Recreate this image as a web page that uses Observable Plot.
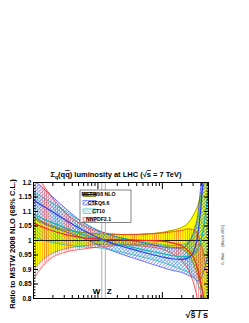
<!DOCTYPE html>
<html><head><meta charset="utf-8">
<script src="https://cdn.jsdelivr.net/npm/d3@7"></script>
<script src="https://cdn.jsdelivr.net/npm/@observablehq/plot@0.6"></script>
<style>body{margin:0;background:#fff}svg{display:block}</style>
</head><body><div id="chart"></div>
<script>
// x = sqrt(s_hat)/s
const xs      = [0.001, 0.00126, 0.00178, 0.00316, 0.00562, 0.01, 0.0178, 0.0316, 0.0562, 0.1, 0.141, 0.2, 0.251, 0.316, 0.355, 0.398, 0.447, 0.501, 0.525];
// MSTW 2008 NLO band (central = 1)
const mstwLo  = [0.899, 0.925, 0.951, 0.972, 0.981, 0.986, 0.987, 0.987, 0.985, 0.981, 0.977, 0.970, 0.956, 0.910, 0.880, 0.840, 0.800, 0.740, 0.700];
const mstwHi  = [1.083, 1.070, 1.054, 1.037, 1.028, 1.023, 1.021, 1.021, 1.023, 1.028, 1.035, 1.045, 1.060, 1.095, 1.120, 1.160, 1.200, 1.260, 1.300];
// CTEQ6.6
const cteqC   = [1.140, 1.125, 1.105, 1.070, 1.038, 1.010, 0.988, 0.972, 0.957, 0.943, 0.937, 0.935, 0.940, 0.970, 1.020, 1.120, 1.260, 1.400, 1.450];
const cteqHi  = [1.210, 1.190, 1.160, 1.110, 1.065, 1.035, 1.015, 1.002, 0.990, 0.978, 0.974, 0.975, 0.990, 1.040, 1.090, 1.200, 1.380, 1.600, 1.700];
const cteqLo  = [1.080, 1.065, 1.050, 1.030, 1.010, 0.985, 0.962, 0.943, 0.925, 0.907, 0.897, 0.890, 0.880, 0.870, 0.860, 0.870, 0.900, 0.950, 0.980];
// CT10
const ct10C   = [1.090, 1.080, 1.065, 1.043, 1.022, 1.005, 0.990, 0.978, 0.966, 0.955, 0.948, 0.944, 0.945, 0.955, 0.970, 1.000, 1.060, 1.150, 1.200];
const ct10Hi  = [1.170, 1.155, 1.135, 1.100, 1.065, 1.035, 1.015, 1.003, 0.993, 0.985, 0.983, 0.985, 0.995, 1.030, 1.070, 1.150, 1.300, 1.500, 1.600];
const ct10Lo  = [1.010, 1.005, 0.995, 0.985, 0.978, 0.975, 0.965, 0.953, 0.940, 0.925, 0.913, 0.900, 0.890, 0.870, 0.850, 0.820, 0.780, 0.740, 0.720];
// NNPDF2.1
const nnC     = [1.060, 1.050, 1.037, 1.020, 1.010, 1.005, 1.003, 1.002, 1.000, 0.998, 0.992, 0.982, 0.965, 0.935, 0.900, 0.850, 0.790, 0.720, 0.700];
const nnHi    = [1.250, 1.210, 1.160, 1.095, 1.055, 1.032, 1.022, 1.020, 1.022, 1.026, 1.030, 1.035, 1.040, 1.035, 1.020, 0.990, 0.940, 0.880, 0.860];
const nnLo    = [0.865, 0.900, 0.935, 0.960, 0.970, 0.977, 0.982, 0.984, 0.979, 0.970, 0.955, 0.930, 0.900, 0.840, 0.790, 0.720, 0.640, 0.560, 0.540];

const bosons  = [{name:"W", x:80.4/7000}, {name:"Z", x:91.19/7000}];
const xMajor  = [0.001, 0.01, 0.1];
const xLabels = ["10\u207B\u00B3", "10\u207B\u00B2", "10\u207B\u00B9"];
const yMajor  = [0.8, 0.85, 0.9, 0.95, 1, 1.05, 1.1, 1.15, 1.2];
const legendNames = ["MSTW08 NLO", "CTEQ6.6", "CT10", "NNPDF2.1"];

const rows = xs.map((x, i) => ({x, mLo: mstwLo[i], mHi: mstwHi[i], mC: 1,
  cC: cteqC[i], cHi: cteqHi[i], cLo: cteqLo[i],
  tC: ct10C[i], tHi: ct10Hi[i], tLo: ct10Lo[i],
  nC: nnC[i], nHi: nnHi[i], nLo: nnLo[i]}));

const xMinor = [];
for (let e = -3; e <= -1; e++) for (let k = 2; k <= 9; k++) { const v = k * Math.pow(10, e); if (v <= 0.52) xMinor.push(v); }
const yMinor = d3.range(80, 121).map(v => v / 100);

const curve = "monotone-x";
const BLUE = "#2f3df0", CYAN = "#16b5b5", RED = "#f0282d", OLIVE = "#6b6b00";
const band = (lo, hi, fill) => Plot.areaY(rows, {x: "x", y1: lo, y2: hi, fill, curve, clip: true});
const ln = (y, stroke, sw) => Plot.line(rows, {x: "x", y, stroke, strokeWidth: sw, curve, clip: true});
const ax = (fn, ticks, opts) => fn(ticks, {label: null, tickFormat: () => "", ...opts});

const chart = Plot.plot({
  width: 249, height: 323,
  marginTop: 182, marginBottom: 25, marginLeft: 33, marginRight: 41,
  style: {fontFamily: "Liberation Sans, Arial, sans-serif", fontSize: "6.5px", fontWeight: "bold", background: "white", color: "black"},
  x: {type: "log", domain: [0.001, 0.52], axis: null},
  y: {domain: [0.8, 1.2], axis: null},
  marks: [
    band("mLo", "mHi", "#ffff00"),
    band("cLo", "cHi", "url(#hBlue)"),
    band("tLo", "tHi", "url(#hCyan)"),
    band("nLo", "nHi", "url(#hRed)"),
    ln("mLo", OLIVE, 0.6), ln("mHi", OLIVE, 0.6),
    ln("cLo", BLUE, 0.7), ln("cHi", BLUE, 0.7),
    ln("tLo", CYAN, 0.7), ln("tHi", CYAN, 0.7),
    ln("nLo", RED, 0.7), ln("nHi", RED, 0.7),
    Plot.ruleX(bosons, {x: "x", stroke: "#b0b0b0", strokeWidth: 1}),
    ln("mC", "#222", 1.2),
    ln("tC", CYAN, 1.2),
    ln("cC", BLUE, 1.2),
    ln("nC", RED, 1.2),
    Plot.text(bosons.filter(d => d.name === "W"), {x: "x", frameAnchor: "bottom", dy: -5, dx: -1.5, text: "name", fontSize: 8, fontWeight: "bold", textAnchor: "end"}),
    Plot.text(bosons.filter(d => d.name === "Z"), {x: "x", frameAnchor: "bottom", dy: -5, dx: 1.5, text: "name", fontSize: 8, fontWeight: "bold", textAnchor: "start"}),
    // axes: inward ticks
    ax(Plot.axisX, xMajor, {anchor: "bottom", tickSize: -6}),
    ax(Plot.axisX, xMinor, {anchor: "bottom", tickSize: -3}),
    ax(Plot.axisX, xMajor, {anchor: "top", tickSize: -6}),
    ax(Plot.axisX, xMinor, {anchor: "top", tickSize: -3}),
    Plot.axisX(xMajor, {anchor: "bottom", label: null, tickSize: 0, tickPadding: 3, tickFormat: (d, i) => xLabels[i], fontSize: 6}),
    ax(Plot.axisY, yMajor, {anchor: "left", tickSize: -5}),
    ax(Plot.axisY, yMinor, {anchor: "left", tickSize: -2.5}),
    ax(Plot.axisY, yMajor, {anchor: "right", tickSize: -5}),
    ax(Plot.axisY, yMinor, {anchor: "right", tickSize: -2.5}),
    Plot.axisY(yMajor, {anchor: "left", label: null, tickSize: 0, tickPadding: 2, tickFormat: d => String(d), fontSize: 6.5}),
    Plot.frame({stroke: "black", strokeWidth: 1})
  ]
});

const svg = d3.select(chart);
const defs = svg.insert("defs", ":first-child");
function hatch(id, color, angle, gap, w) {
  const p = defs.append("pattern").attr("id", id).attr("patternUnits", "userSpaceOnUse")
    .attr("width", gap).attr("height", gap).attr("patternTransform", `rotate(${angle})`);
  p.append("line").attr("x1", 0).attr("y1", 0).attr("x2", 0).attr("y2", gap)
    .attr("stroke", color).attr("stroke-width", w);
}
hatch("hBlue", BLUE, 45, 2.5, 0.9);
hatch("hCyan", CYAN, -45, 2.5, 0.9);
hatch("hRed", RED, 0, 2.2, 0.8);

// Title
const title = svg.append("text").attr("x", 116).attr("y", 177).attr("text-anchor", "middle")
  .attr("font-size", 7.5).attr("font-weight", "bold").attr("font-family", "Liberation Sans, Arial, sans-serif");
title.append("tspan").text("\u03A3");
title.append("tspan").attr("font-size", 5).attr("dy", 1.5).text("q");
title.append("tspan").attr("dy", -1.5).text("(q");
title.append("tspan").style("text-decoration", "overline").text("q");
title.append("tspan").text(") luminosity at LHC (\u221A");
title.append("tspan").style("text-decoration", "overline").text("s");
title.append("tspan").text(" = 7 TeV)");

// Y label
svg.append("text").attr("transform", "translate(15,244) rotate(-90)").attr("text-anchor", "middle")
  .attr("font-size", 7.6).attr("font-weight", "bold").attr("font-family", "Liberation Sans, Arial, sans-serif")
  .text("Ratio to MSTW 2008 NLO (68% C.L.)");

// X label
const xl = svg.append("text").attr("x", 208).attr("y", 318).attr("text-anchor", "end")
  .attr("font-size", 9).attr("font-weight", "bold").attr("font-family", "Liberation Sans, Arial, sans-serif");
xl.append("tspan").text("\u221A");
xl.append("tspan").style("text-decoration", "overline").text("\u015D / s");

// Author note
svg.append("text").attr("transform", "translate(224,245) rotate(-90)").attr("text-anchor", "middle")
  .attr("font-size", 3.6).attr("fill", "#777").attr("font-family", "Liberation Sans, Arial, sans-serif")
  .attr("xml:space", "preserve").text("G. Watt      (March 2011)");

// Legend
const lg = svg.append("g").attr("font-family", "Liberation Sans, Arial, sans-serif").attr("font-size", 5.2).attr("font-weight", "bold");
lg.append("rect").attr("x", 80).attr("y", 190).attr("width", 51).attr("height", 32.5)
  .attr("fill", "white").attr("stroke", "#333").attr("stroke-width", 0.6);
const fills = ["#ffff00", "url(#hBlue)", "url(#hCyan)", "url(#hRed)"];
const strokes = ["#222", BLUE, CYAN, RED];
legendNames.forEach((name, i) => {
  const cy = 194.5 + i * 8.3;
  lg.append("rect").attr("x", 83).attr("y", cy - 2.2).attr("width", 13).attr("height", 4.4)
    .attr("fill", fills[i]).attr("stroke", strokes[i]).attr("stroke-width", 0.5);
  if (i === 0) lg.append("line").attr("x1", 83).attr("x2", 96).attr("y1", cy).attr("y2", cy).attr("stroke", "#222").attr("stroke-width", 1.2);
  lg.append("text").attr("x", 98.5).attr("y", cy + 1.8).text(name);
});

document.getElementById("chart").appendChild(chart);
</script>
</body></html>
